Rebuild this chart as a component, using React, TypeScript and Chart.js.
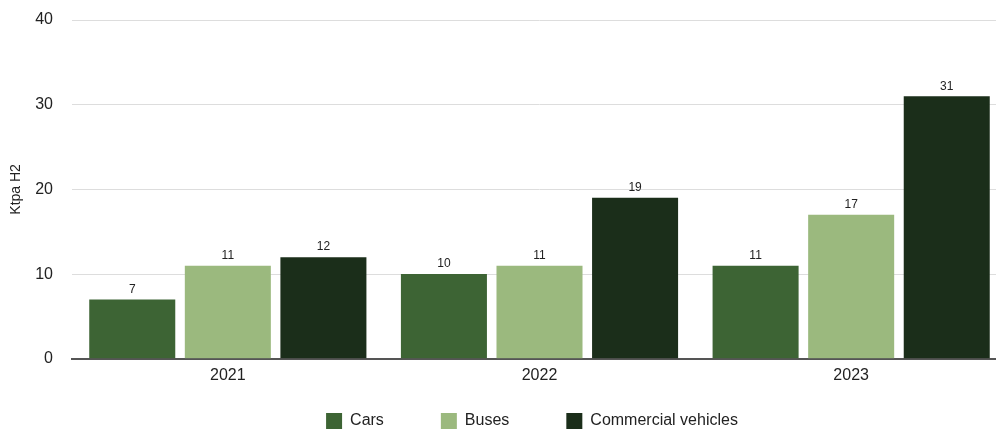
import React, { useEffect, useRef } from "react";
import { Chart, registerables } from "chart.js";

Chart.register(...registerables);

const categories = ["2021", "2022", "2023"];
const cars = [7, 10, 11];
const buses = [11, 11, 17];
const commercial = [12, 19, 31];
const seriesNames = ["Cars", "Buses", "Commercial vehicles"];
const yTicks = [0, 10, 20, 30, 40];

const FONT = "'Liberation Sans', Arial, Helvetica, sans-serif";

const LEGEND_PAD = 57;
const LEGEND_RESERVED = 38;
const LEGEND_ROW_TOP = 413;
const LEGEND_CENTER_X = 532;

const valueLabels = {
  id: "valueLabels",
  afterDatasetsDraw(chart: any) {
    const ctx = chart.ctx;
    ctx.save();
    ctx.font = `12px ${FONT}`;
    ctx.fillStyle = "#222";
    ctx.textAlign = "center";
    ctx.textBaseline = "middle";
    chart.data.datasets.forEach((ds: any, i: number) => {
      const meta = chart.getDatasetMeta(i);
      meta.data.forEach((el: any, j: number) => {
        ctx.fillText(String(ds.data[j]), el.x, el.y - 10);
      });
    });
    ctx.restore();
  },
};

const legendPlacement = {
  id: "legendPlacement",
  afterInit(chart: any) {
    const lg = chart.legend;
    if (!lg || lg.__wrapped) return;
    const origFit = lg.fit.bind(lg);
    lg.fit = function () {
      origFit();
      this.height = LEGEND_RESERVED;
    };
    lg.__wrapped = true;
  },
  afterLayout(chart: any) {
    const lg = chart.legend;
    if (!lg) return;
    lg.top = LEGEND_ROW_TOP - LEGEND_PAD;
    lg.bottom = chart.height + 10;
    const shift = LEGEND_CENTER_X - (lg.left + lg.right) / 2;
    lg.left += shift;
    lg.right += shift;
  },
};

export default function App() {
  const ref = useRef<HTMLCanvasElement>(null);
  useEffect(() => {
    const chart = new Chart(ref.current!, {
      type: "bar",
      data: {
        labels: categories,
        datasets: [
          { label: seriesNames[0], data: cars, backgroundColor: "#3d6434" },
          { label: seriesNames[1], data: buses, backgroundColor: "#9bb97e" },
          { label: seriesNames[2], data: commercial, backgroundColor: "#1b2e1a" },
        ],
      },
      options: {
        animation: false,
        responsive: true,
        maintainAspectRatio: false,
        layout: { padding: { top: 20, right: 0, left: 0, bottom: 0 } },
        datasets: { bar: { categoryPercentage: 0.92, barPercentage: 0.9 } } as any,
        plugins: {
          legend: {
            position: "bottom",
            labels: {
              boxWidth: 16,
              boxHeight: 16,
              padding: LEGEND_PAD,
              color: "#222",
              font: { family: FONT, size: 16 },
            },
          },
          tooltip: { enabled: false },
        },
        scales: {
          x: {
            grid: { display: false, drawTicks: false },
            border: { display: true, color: "#555", width: 2 },
            ticks: { color: "#222", padding: 7, font: { family: FONT, size: 16 } },
            afterFit: (scale: any) => {
              scale.paddingLeft = 0;
              scale.paddingRight = 0;
            },
          },
          y: {
            min: 0,
            max: 40,
            afterBuildTicks: (scale: any) => {
              scale.ticks = yTicks.map((v) => ({ value: v }));
            },
            afterFit: (scale: any) => {
              scale.width = 72;
              scale.paddingTop = 0;
              scale.paddingBottom = 0;
            },
            grid: { color: "#dddddd", drawTicks: false },
            border: { display: false },
            ticks: { color: "#222", padding: 19, font: { family: FONT, size: 16 } },
            title: {
              display: true,
              text: "Ktpa H2",
              color: "#222",
              padding: { top: 8, bottom: 0 },
              font: { family: FONT, size: 14 },
            },
          },
        },
      },
      plugins: [valueLabels, legendPlacement],
    });
    return () => chart.destroy();
  }, []);
  return (
    <div style={{ position: "fixed", left: 0, top: 0, width: 996, height: 430, overflow: "hidden", background: "#fff" }}>
      <div style={{ position: "relative", width: 1007, height: 430 }}>
        <canvas ref={ref} />
      </div>
    </div>
  );
}
